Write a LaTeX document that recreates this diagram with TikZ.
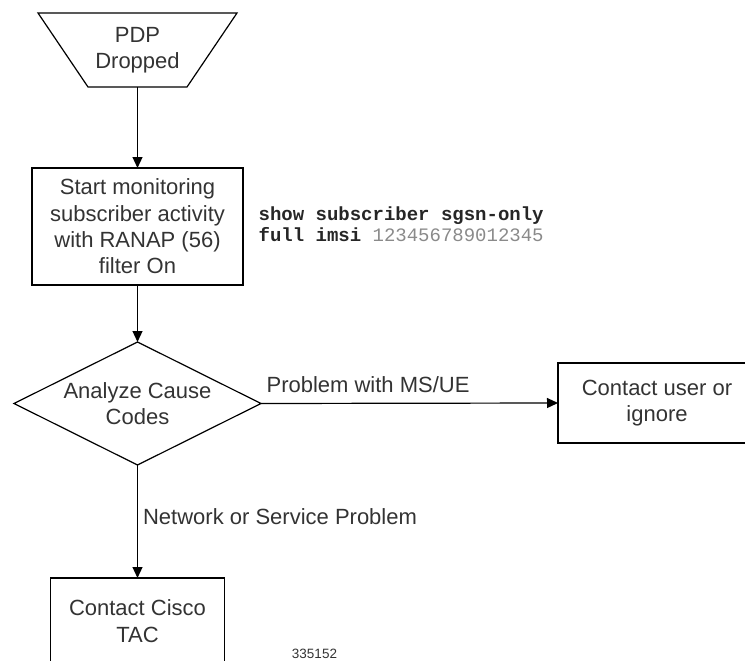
\documentclass[tikz,border=0pt]{standalone}
\usepackage{fontspec}
\setmainfont{Liberation Sans}
\setmonofont{Liberation Mono}
\usetikzlibrary{shapes.geometric,arrows.meta}
\definecolor{txtgray}{HTML}{333333}
\definecolor{numgray}{HTML}{8A8A8A}
\tikzset{
  stepbox/.style={draw, rectangle, inner sep=0pt, outer sep=0pt, align=center, text=txtgray},
  flowline/.style={->, line width=1.2pt},
  edgelabel/.style={text=txtgray, inner sep=0pt}
}
\begin{document}
\begin{tikzpicture}[x=1pt, y=-1pt, line width=1.2pt, line join=miter, >={Triangle[length=11pt,width=10pt]},
  font=\fontsize{22}{26.3}\selectfont]
  \clip (0,0) rectangle (745,661);
  % start
  \node[rectangle, minimum width=99pt, minimum height=74pt, inner sep=0pt, outer sep=0pt,
        align=center, text=txtgray] (pdp) at (137.5,50) {PDP\\Dropped};
  \draw (pdp.south west) -- (pdp.south east) -- ([xshift=50pt]pdp.north east)
        -- ([xshift=-50pt]pdp.north west) -- cycle;
  \node[stepbox, minimum width=211pt, minimum height=117pt] (monitor) at (137.5,226.5)
        {Start monitoring\\subscriber activity\\with RANAP (56)\\filter On};
  \node[anchor=west, align=left, inner sep=0pt, font=\fontsize{19}{21}\selectfont\ttfamily\bfseries,
        text=black!85] (cmd) at (258,224.5)
        {show subscriber sgsn-only\\full imsi {\mdseries\color{numgray}123456789012345}};
  % decision
  \node[draw, diamond, aspect=2, minimum width=247pt, minimum height=123pt, inner sep=-1.5pt,
        outer sep=0pt, align=center, text=txtgray] (cause) at (137.5,403.5) {Analyze Cause\\Codes};
  \node[stepbox, minimum width=198pt, minimum height=80pt] (user) at (657,403)
        {Contact user or\\ignore};
  \node[stepbox, minimum width=174pt, minimum height=86pt] (cisco) at (137.5,621)
        {Contact Cisco\\TAC};
  \node[font=\fontsize{13.5}{15}\selectfont, text=txtgray, inner sep=0pt] (fig) at (314.5,654) {335152};
  % connectors
  \draw[flowline] (pdp.south) -- (monitor.north);
  \draw[flowline] (monitor.south) -- (cause.north);
  \draw[flowline] (cause.east) -- node[pos=0, edgelabel, anchor=west, xshift=5pt, yshift=19pt]
        {Problem with MS/UE} (user.west);
  \draw[flowline] (cause.south) -- node[pos=0.46, edgelabel, anchor=west, xshift=5pt]
        {Network or Service Problem} (cisco.north);
\end{tikzpicture}
\end{document}
